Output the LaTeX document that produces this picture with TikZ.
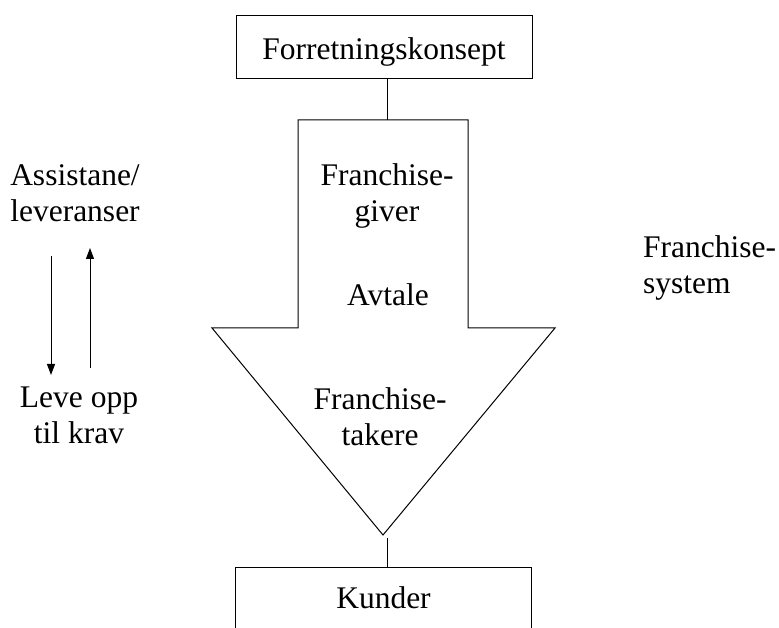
\documentclass[tikz,border=0pt]{standalone}
\usepackage{fontspec}
\setmainfont{Liberation Serif}
\usetikzlibrary{arrows.meta}
\begin{document}
\begin{tikzpicture}[x=1pt,y=1pt,
  every node/.style={font=\fontsize{31.5}{36.5}\selectfont, inner sep=0pt},
  txt/.style={align=center, anchor=base},
  boxnode/.style={draw, line width=1pt, minimum width=296pt},
  line/.style={line width=1pt},
  arr/.style={line width=1pt, -{Triangle[length=11pt,width=8pt]}}]
\useasboundingbox (0,0) rectangle (779,628);
% boxes
\node[boxnode, minimum height=63pt, text height=30pt, text depth=5pt] (fk) at (384,580.5) {Forretningskonsept};
\node[boxnode, minimum height=70pt, text height=22pt, text depth=10pt] (kun) at (383.5,25) {Kunder};
% big arrow
\coordinate (atl) at (298,508);
\coordinate (atr) at (468,508);
\coordinate (atop) at (387,508);
\coordinate (tip) at (383,93);
\draw[line, line join=miter] (atl) -- (atr) -- (468,300) -- (555,300) -- (tip) -- (212,300) -- (298,300) -- cycle;
% connectors
\draw[line] (atop |- fk.south) -- (atop);
\coordinate (tipb) at (387,90);
\draw[line] (tipb) -- (tipb |- kun.north);
% texts in arrow
\node[txt] (giver) at (387,406) {Franchise-\\giver};
\node[txt] (avtale) at (388,322) {Avtale};
\node[txt] (takere) at (380,182) {Franchise-\\takere};
% right text
\node[align=left, anchor=base west] (system) at (643,334) {Franchise-\\system};
% left texts
\node[txt] (asst) at (75,406) {Assistane/\\leveranser};
\node[txt] (leve) at (79,184) {Leve opp\\til krav};
\coordinate (d1) at (51,372);
\coordinate (d2) at (51,253);
\coordinate (u1) at (90,260);
\coordinate (u2) at (90,380);
\draw[arr] (d1) -- (d2);
\draw[arr] (u1) -- (u2);
\end{tikzpicture}
\end{document}
